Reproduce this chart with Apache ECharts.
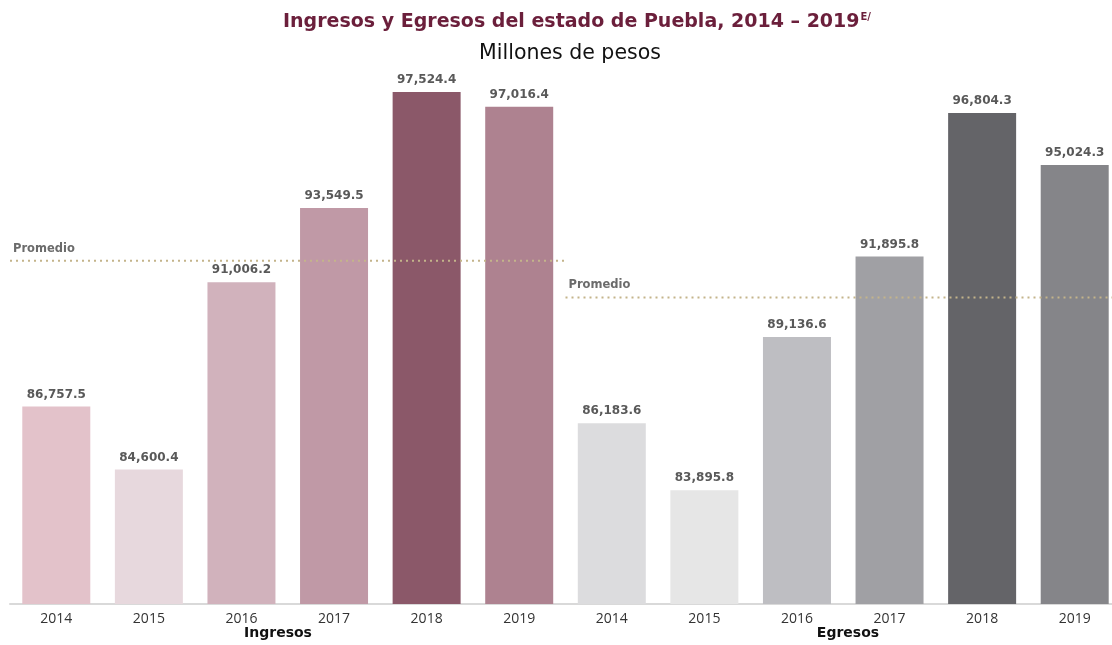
<!DOCTYPE html>
<html>
<head>
<meta charset="UTF-8">
<title>Ingresos y Egresos Puebla</title>
<script src="https://cdn.jsdelivr.net/npm/echarts@6/dist/echarts.min.js"></script>
<style>
  html, body { margin: 0; padding: 0; background: #fff; overflow: hidden; }
  #main { width: 1121px; height: 645px; }
</style>
</head>
<body>
<div id="main"></div>
<script>
// datos
var years = ['2014', '2015', '2016', '2017', '2018', '2019'];
var ingresos = [86757.5, 84600.4, 91006.2, 93549.5, 97524.4, 97016.4];
var egresos = [86183.6, 83895.8, 89136.6, 91895.8, 96804.3, 95024.3];
var ingresosColors = ['#e3c2ca', '#e7d8dd', '#d1b2bc', '#c099a6', '#8b5869', '#ae8290'];
var egresosColors = ['#dcdcde', '#e6e6e6', '#bebec2', '#a0a0a4', '#646468', '#858589'];

function avg(arr) {
  var s = 0;
  arr.forEach(function (v) { s += v; });
  return s / arr.length;
}
function fmt(v) {
  return v.toLocaleString('en-US', { minimumFractionDigits: 1, maximumFractionDigits: 1 });
}

var categories = years.concat(years);
var barData = [];
ingresos.forEach(function (v, i) {
  barData.push({ value: v, itemStyle: { color: ingresosColors[i] } });
});
egresos.forEach(function (v, i) {
  barData.push({ value: v, itemStyle: { color: egresosColors[i] } });
});

var promIng = avg(ingresos);
var promEgr = avg(egresos);
var promLabel = {
  show: true, position: 'top', align: 'left', offset: [3, -1],
  formatter: 'Promedio', color: '#6b6b6b', fontWeight: 'bold', fontSize: 11.5,
  fontFamily: 'DejaVu Sans'
};

var myChart = echarts.init(document.getElementById('main'));
var option = {
  animation: false,
  title: [{
    text: 'Ingresos y Egresos del estado de Puebla, 2014 – 2019{sup|E/}',
    left: 572, top: 7, textAlign: 'center',
    textStyle: {
      fontFamily: 'DejaVu Sans', fontSize: 19, fontWeight: 'bold', color: '#6b1f3b',
      rich: { sup: { fontSize: 10, fontWeight: 'bold', color: '#6b1f3b', fontFamily: 'DejaVu Sans', verticalAlign: 'top', padding: [0, 0, 10, 1] } }
    }
  }, {
    text: 'Millones de pesos',
    left: 565, top: 38, textAlign: 'center',
    textStyle: { fontFamily: 'DejaVu Sans', fontSize: 20.5, fontWeight: 'normal', color: '#111' }
  }],
  grid: { left: 10, right: 0, top: 78, bottom: 41, containLabel: false },
  xAxis: [{
    type: 'category',
    data: categories,
    axisLine: { lineStyle: { color: '#d9d9d9', width: 2 } },
    axisTick: { show: false },
    axisLabel: { color: '#333', fontSize: 14, margin: 8, fontFamily: 'Open Sans' }
  }, {
    type: 'value', min: -0.5, max: 11.5, show: false
  }],
  yAxis: { type: 'value', min: 80000, max: 98000, show: false },
  series: [{
    type: 'bar',
    data: barData,
    barWidth: 68,
    label: {
      show: true, position: 'top', distance: 6,
      color: '#595959', fontWeight: 'bold', fontSize: 12, fontFamily: 'DejaVu Sans',
      formatter: function (p) { return fmt(p.value); }
    }
  }, {
    type: 'line', xAxisIndex: 1, symbol: 'circle', symbolSize: 0,
    lineStyle: { color: '#c4b48a', width: 2, type: [2, 4] },
    data: [{ value: [-0.5, promIng], label: promLabel }, [5.5, promIng]]
  }, {
    type: 'line', xAxisIndex: 1, symbol: 'circle', symbolSize: 0,
    lineStyle: { color: '#c4b48a', width: 2, type: [2, 4] },
    data: [{ value: [5.5, promEgr], label: promLabel }, [11.5, promEgr]]
  }],
  graphic: [{
    type: 'text', x: 278, y: 626,
    style: { text: 'Ingresos', fontFamily: 'DejaVu Sans', fontSize: 14, fontWeight: 'bold', fill: '#111', align: 'center' }
  }, {
    type: 'text', x: 848, y: 626,
    style: { text: 'Egresos', fontFamily: 'DejaVu Sans', fontSize: 14, fontWeight: 'bold', fill: '#111', align: 'center' }
  }]
};
myChart.setOption(option);
</script>
</body>
</html>
